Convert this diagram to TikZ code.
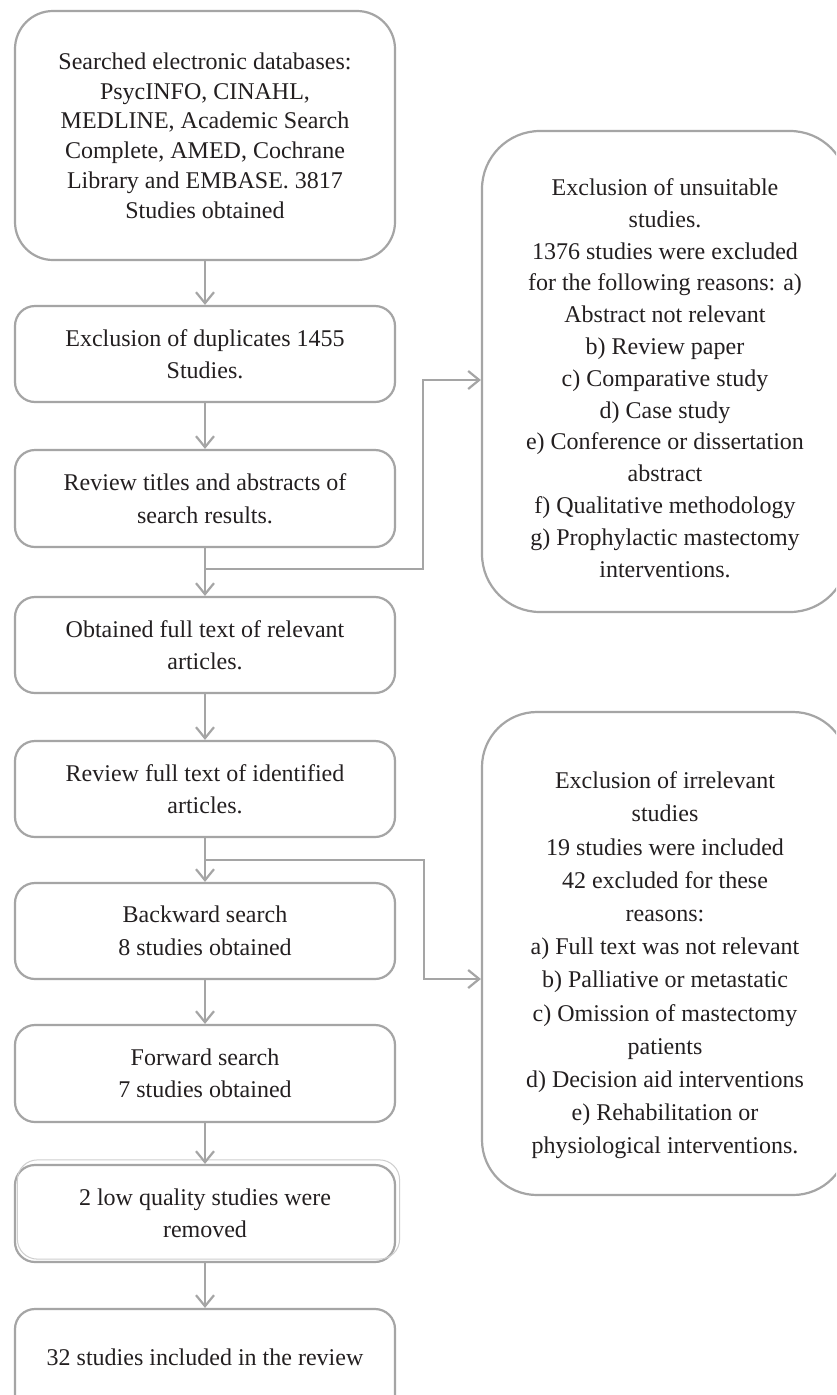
\documentclass[tikz,border=0pt]{standalone}
\usepackage{fontspec}
\setmainfont{Liberation Serif}
\usetikzlibrary{arrows.meta}
\definecolor{lc}{HTML}{A5A5A5}
\definecolor{tc}{HTML}{231F20}
\begin{document}
\begin{tikzpicture}[x=1pt,y=-1pt,
  lbox/.style={draw=lc, line width=2.2pt, rounded corners=20pt, minimum width=380pt,
    minimum height=96pt, align=center, text=tc, inner sep=0pt,
    font=\fontsize{24}{32.5}\selectfont},
  rbox/.style={draw=lc, line width=2.2pt, rounded corners=58pt, minimum width=366pt, inner sep=0pt},
  rtxt/.style={align=center, text=tc, inner sep=0pt},
  arr/.style={draw=lc, line width=2.2pt, -{Straight Barb[length=11pt,width=18pt]}}]
\clip (0,0) rectangle (836,1395);
\fill[white] (0,0) rectangle (836,1395);

% left column
\node[lbox, rounded corners=38pt, minimum height=249pt, font=\fontsize{24}{29.8}\selectfont] (b1) at (205,135.5)
  {Searched electronic databases:\\PsycINFO, CINAHL,\\MEDLINE, Academic Search\\Complete, AMED, Cochrane\\Library and EMBASE. 3817\\Studies obtained};
\node[lbox] (b2) at (205,354) {Exclusion of duplicates 1455\\Studies.};
\node[lbox, minimum height=97pt] (b3) at (205,498.5) {Review titles and abstracts of\\search results.};
\node[lbox] (b4) at (205,645) {Obtained full text of relevant\\articles.};
\node[lbox] (b5) at (205,789) {Review full text of identified\\articles.};
\node[lbox] (b6) at (205,931) {Backward search\\8 studies obtained};
\node[lbox, minimum height=97pt] (b7) at (205,1073.5) {Forward search\\7 studies obtained};
\node[lbox, minimum height=97pt] (b8) at (205,1213.5) {2 low quality studies were\\removed};
\draw[lc!55, line width=1pt, rounded corners=20pt]
  ([shift={(3.5pt,4pt)}]b8.south west) rectangle ([shift={(3.5pt,4pt)}]b8.north east);
\node[lbox, minimum height=121pt] (b9) at (205,1369.5) {\raisebox{25pt}{32 studies included in the review}};

% right column
\node[rbox, minimum height=481pt] (A) at (665,371.5) {};
\node[rtxt, font=\fontsize{24}{31.8}\selectfont] (At) at (665,378)
  {Exclusion of unsuitable\\studies.\\1376 studies were excluded\\for the following reasons: a)\\Abstract not relevant\\b) Review paper\\c) Comparative study\\d) Case study\\e) Conference or dissertation\\abstract\\f) Qualitative methodology\\g) Prophylactic mastectomy\\interventions.};
\node[rbox, rounded corners=55pt, minimum height=483pt] (B) at (665,953.5) {};
\node[rtxt, font=\fontsize{24}{33.2}\selectfont] (Bt) at (665,965.5)
  {Exclusion of irrelevant\\studies\\19 studies were included\\42 excluded for these\\reasons:\\a) Full text was not relevant\\b) Palliative or metastatic\\c) Omission of mastectomy\\patients\\d) Decision aid interventions\\e) Rehabilitation or\\physiological interventions.};

% connectors
\draw[arr] (b1) -- (b2);
\draw[arr] (b2) -- (b3);
\draw[arr] (b3) -- (b4);
\draw[arr] (b4) -- (b5);
\draw[arr] (b5) -- (b6);
\draw[arr] (b6) -- (b7);
\draw[arr] (b7) -- (b8);
\draw[arr] (b8) -- (b9);

\coordinate (j1) at (205,569);
\coordinate (k1) at (423,380);
\draw[arr] (j1) -| (k1) -- (k1 -| A.west);
\coordinate (j2) at (205,860);
\coordinate (k2) at (424,979);
\draw[arr] (j2) -| (k2) -- (k2 -| B.west);
\end{tikzpicture}
\end{document}
